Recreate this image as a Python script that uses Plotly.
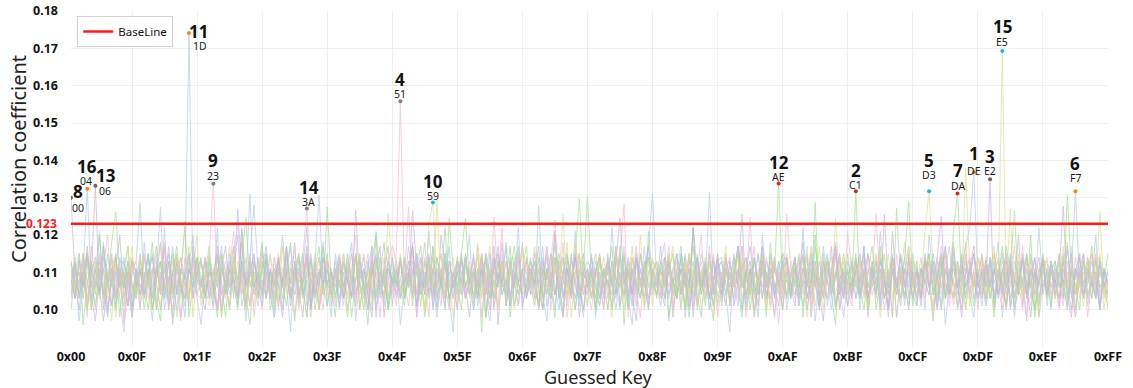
import plotly.graph_objects as go

# ---------------- data ----------------
keys = list(range(256))
x_tick_vals = [0, 15, 31, 47, 63, 79, 95, 111, 127, 143, 159, 175, 191, 207, 223, 239, 255]
x_tick_text = ["0x00", "0x0F", "0x1F", "0x2F", "0x3F", "0x4F", "0x5F", "0x6F", "0x7F",
               "0x8F", "0x9F", "0xAF", "0xBF", "0xCF", "0xDF", "0xEF", "0xFF"]
y_tick_vals = [0.10, 0.11, 0.12, 0.13, 0.14, 0.15, 0.16, 0.17, 0.18]
baseline = 0.123

# correlation per guessed key, in thousandths, one list per key byte (1..16)
s1 = [104,113,97,108,117,101,110,121,106,98,111,115,103,94,107,114,
      110,100,118,107,97,113,104,122,101,110,115,98,106,111,120,103,
      96,108,114,104,122,100,107,113,103,127,110,97,115,106,101,111,
      117,104,98,110,120,107,94,113,103,111,122,101,108,100,114,106,
      98,115,107,103,111,118,97,108,114,104,100,121,110,101,113,107,
      111,96,106,117,108,101,114,104,121,107,98,110,115,103,94,113,
      104,111,120,100,108,115,103,97,113,107,118,101,110,106,122,100,
      108,114,103,128,104,97,111,117,107,100,113,104,121,101,110,106,
      115,98,107,111,103,122,108,100,114,104,96,113,106,117,101,110,
      103,113,118,97,107,110,100,115,106,122,104,98,111,108,114,101,
      110,104,94,114,107,117,101,111,106,98,120,108,103,113,104,115,
      100,108,114,104,122,103,111,97,107,115,101,110,118,106,98,108,
      113,103,107,117,100,110,104,121,108,98,114,106,111,101,115,107,
      104,111,100,120,108,103,113,96,107,115,104,110,117,122,136.8,108,
      101,113,106,110,118,98,108,114,103,111,107,97,115,104,122,106,
      110,100,113,107,103,117,108,98,111,115,104,107,120,101,110,106]
s2 = [108,103,115,96,107,113,104,120,100,110,106,114,98,111,117,101,
      106,111,100,108,118,103,97,113,107,115,104,110,122,98,107,114,
      103,110,117,106,98,111,107,101,114,108,121,104,96,113,106,110,
      115,100,107,113,103,110,118,97,108,106,114,101,111,117,104,127.5,
      107,98,111,104,115,108,101,114,106,96,113,120,103,110,100,108,
      113,106,101,110,117,104,111,98,107,114,103,108,122,101,110,106,
      100,114,108,104,111,94,115,107,103,113,106,118,98,110,104,111,
      117,104,110,100,107,114,103,120,108,98,111,106,115,129.8,107,101,
      110,115,103,108,113,100,106,117,96,111,104,114,107,101,121,108,
      104,111,114,98,107,103,115,110,106,122,100,108,113,104,97,114,
      108,101,113,106,117,110,100,107,114,104,111,98,118,103,108,113,
      103,110,106,115,98,111,107,120,101,108,114,104,96,113,107,115,
      106,131.7,104,110,100,113,107,117,103,111,98,127.1,108,104,114,101,
      111,104,115,107,97,110,114,103,108,118,100,106,113,107,101,110,
      114,103,108,98,111,106,117,110,101,113,107,104,120,100,108,111,
      104,113,107,115,103,130.6,110,100,111,106,114,108,103,113,107,104]
s3 = [113,106,100,110,115,104,97,108,117,107,101,111,120,103,110,98,
      107,115,104,111,100,108,118,103,113,96,106,114,108,101,117,110,
      104,100,111,107,117,98,110,106,114,103,122,108,101,113,107,115,
      110,103,114,106,98,111,107,118,101,108,115,104,111,100,106,113,
      101,111,106,115,108,103,126.6,107,100,113,104,110,117,98,108,114,
      106,114,103,108,118,98,110,104,113,107,101,120,111,103,108,100,
      115,107,98,111,104,114,108,103,117,96,110,106,113,101,107,118,
      103,108,115,106,100,111,107,121,104,98,114,108,103,110,115,106,
      111,100,110,104,114,107,117,101,108,113,104,97,115,107,103,111,
      107,117,103,113,98,108,106,114,101,122,110,104,111,100,108,115,
      104,110,114,101,107,125.5,103,111,98,108,117,106,113,104,110,100,
      114,106,101,110,118,103,108,113,104,97,111,107,115,100,106,110,
      103,111,107,117,98,110,104,114,108,101,121,106,111,103,113,107,
      110,101,113,106,115,108,100,111,104,117,107,98,110,114,103,108,
      115,107,134.9,100,110,104,113,103,108,120,101,111,106,114,98,107,
      106,113,103,110,127.7,104,98,111,107,115,103,108,114,100,110,104]
s4 = [107,114,103,110,98,117,108,104,111,120,101,107,113,96,110,106,
      103,110,115,106,111,100,108,118,104,113,107,97,114,108,103,111,
      113,104,108,100,115,107,103,111,121,101,110,106,114,98,108,117,
      106,111,101,113,108,117,104,98,110,107,115,103,111,106,100,113,
      110,101,114,107,104,111,120,100,108,115,103,110,98,113,107,104,
      115,155.8,107,101,111,104,114,108,98,117,106,110,103,113,107,100,
      108,103,113,106,117,98,110,104,114,107,122,101,111,106,115,103,
      104,113,107,100,110,115,103,111,106,118,98,108,114,104,110,107,
      100,110,115,104,111,107,103,114,128.2,98,108,117,106,113,101,110,
      113,104,108,117,100,111,107,101,114,106,110,120,103,108,115,98,
      107,115,103,110,106,113,98,108,117,104,111,101,114,107,96,111,
      103,108,114,101,111,106,117,110,100,113,107,104,115,108,103,121,
      110,106,113,103,115,108,125.8,104,111,100,114,107,101,110,117,106,
      106,114,104,111,98,108,117,107,101,113,106,110,118,103,111,100,
      113,103,110,115,106,100,111,107,117,104,108,98,114,110,101,113,
      104,111,107,100,113,118,103,110,106,114,98,108,115,104,111,107]
s5 = [110,103,113,107,117,100,108,114,104,111,97,115,106,110,101,113,
      106,114,104,110,100,111,118,103,108,115,98,107,123.6,104,110,120,
      101,108,115,106,111,98,107,117,104,113,108,100,114,107,103,111,
      113,104,110,100,117,108,103,111,115,106,98,110,107,114,104,108,
      103,111,107,115,98,110,114,104,108,101,113,118,106,111,100,107,
      108,115,104,111,103,113,107,100,110,106,129.3,103,114,108,98,111,
      114,106,110,101,118,107,98,111,104,115,108,103,113,106,110,117,
      104,110,117,107,100,111,106,114,103,108,118,98,110,115,104,107,
      111,101,108,114,106,98,115,107,103,113,110,104,120,100,108,114,
      103,113,106,110,117,104,108,100,114,107,101,111,106,115,98,110,
      108,117,101,111,107,114,104,110,98,106,115,108,103,113,107,104,
      115,106,111,103,108,98,113,107,117,104,110,114,101,108,106,111,
      104,110,114,107,100,111,103,115,108,106,113,98,110,118,107,103,
      111,107,121,131.7,110,104,114,108,103,113,106,111,117,101,108,114,
      107,101,111,117,104,110,100,113,107,115,103,108,106,111,98,110,
      114,106,110,103,113,107,117,100,108,104,111,115,106,126.3,103,108]
s6 = [100,110,106,115,107,103,113,108,118,98,111,104,114,107,101,110,
      113,128.6,104,108,115,100,110,106,117,103,111,107,98,114,108,104,
      108,103,113,107,100,115,110,104,111,120,101,107,114,128,110,104,
      115,106,98,111,107,117,103,110,114,104,108,100,113,107,118,101,
      107,113,103,110,100,108,115,106,111,104,117,98,110,107,103,114,
      103,108,114,106,113,101,110,118,104,111,100,107,115,108,103,113,
      110,104,107,115,103,111,98,108,114,106,110,117,101,107,113,104,
      114,107,101,111,106,117,108,100,113,104,110,103,115,107,98,111,
      106,113,108,103,115,107,100,110,104,114,108,101,111,106,117,131.1,
      108,103,111,114,104,110,117,98,107,113,101,108,106,115,104,110,
      101,111,106,108,117,100,110,104,114,107,103,113,108,98,111,115,
      113,104,110,101,107,114,103,111,106,117,108,100,110,104,113,107,
      107,115,100,111,104,108,113,103,110,106,115,98,108,114,103,111,
      103,108,114,106,111,101,110,117,104,113,107,100,111,108,115,106,
      110,101,107,113,103,111,106,115,98,108,114,104,110,107,101,113,
      106,111,104,108,115,103,110,131.7,107,113,101,108,104,114,107,103]
s7 = [111,104,108,115,100,110,106,113,103,107,118,126.2,108,101,111,106,
      103,113,107,100,110,117,104,111,108,98,114,106,110,103,115,107,
      113,106,110,103,114,107,98,111,117,104,108,101,113,106,110,118,
      104,110,100,113,107,115,103,108,111,106,98,114,104,110,107,101,
      110,103,114,106,111,98,108,115,104,107,113,103,110,118,100,108,
      107,113,104,110,101,111,117,106,108,103,114,107,100,124.5,110,104,
      114,106,111,103,108,115,98,110,106,113,104,108,117,101,107,111,
      104,110,107,114,103,111,106,98,115,108,104,113,107,103,110,130.4,
      108,100,113,106,110,117,104,107,111,101,114,108,103,113,106,110,
      113,107,103,110,115,104,111,100,108,117,106,110,101,113,107,104,
      103,111,108,114,106,98,110,104,113,107,115,103,111,106,108,100,
      110,104,114,107,101,111,106,117,108,103,113,110,100,107,115,106,
      107,114,103,110,106,113,100,108,115,104,111,107,103,114,129,106,
      113,103,108,115,104,110,101,111,107,121,131.1,108,103,113,106,110,
      104,110,113,101,108,117,106,111,103,107,114,104,110,98,108,115,
      108,101,111,106,114,104,110,107,100,113,108,117,104,110,106,101]
s8 = [130.0,108,104,113,101,110,114,106,97,107,115,103,111,106,113,100,
      110,104,114,107,103,111,106,117,100,108,113,104,110,115,103,107,
      106,113,103,110,115,104,108,100,111,107,118,101,110,106,114,104,
      114,107,111,101,108,117,104,110,106,98,113,108,103,111,107,115,
      104,110,100,113,107,103,115,108,111,104,98,114,106,110,117,101,
      110,103,113,107,126.5,111,104,108,115,100,110,106,113,103,107,114,
      107,115,104,110,103,113,107,100,111,117,106,108,101,113,104,110,
      113,104,108,117,100,110,106,114,103,107,111,104,115,98,108,111,
      103,111,107,100,113,106,115,108,104,110,101,114,107,111,117,104,
      110,106,114,104,108,103,111,107,115,98,110,106,113,103,108,114,
      106,113,101,110,117,107,104,111,100,108,114,103,110,107,101,113,
      114,103,108,106,111,115,98,110,104,113,107,117,101,108,111,104,
      107,110,104,114,103,108,113,101,125.5,106,111,104,115,107,100,110,
      101,111,107,113,106,100,110,115,104,108,113,103,107,111,117,106,
      111,106,114,103,110,107,101,113,108,104,115,107,98,110,106,114,
      104,113,108,101,111,106,115,104,110,103,107,113,108,100,111,107]
s9 = [106,113,103,110,115,107,100,111,104,108,114,103,110,98,107,113,
      110,101,108,114,104,111,107,117,100,106,113,108,103,110,115,104,
      103,108,115,133.7,107,100,111,106,114,124,104,110,101,113,108,106,
      108,115,104,111,100,110,107,117,103,113,106,98,110,114,104,107,
      104,111,107,101,114,108,103,110,115,106,111,100,108,104,113,117,
      113,103,110,106,115,98,108,114,104,111,107,101,113,106,110,103,
      107,114,104,110,103,113,108,100,124.8,107,115,104,111,108,101,110,
      103,110,113,104,108,117,100,111,106,114,107,103,110,115,104,108,
      114,106,101,111,107,104,113,108,117,103,110,106,98,111,114,107,
      104,110,107,115,100,108,113,106,111,103,115,107,104,110,101,114,
      108,101,113,106,110,117,107,124.8,103,111,106,114,108,98,110,104,
      111,107,103,113,106,110,115,101,108,104,113,107,117,100,110,106,
      101,113,108,104,111,106,114,107,103,110,98,115,107,111,104,108,
      110,104,114,107,101,113,106,110,117,104,108,100,111,107,115,103,
      106,111,103,110,114,107,100,113,104,108,117,106,101,111,107,113,
      113,103,108,115,106,110,104,98,111,107,114,103,110,106,108,100]
s10 = [107,114,104,110,101,113,108,103,115,106,111,98,110,107,117,104,
       111,103,108,115,106,100,113,107,104,110,114,103,108,117,98,110,
       104,110,113,103,108,115,106,100,111,107,104,114,108,101,110,113,
       113,106,101,110,117,104,108,111,100,107,113,106,115,103,110,104,
       103,108,114,106,98,111,107,115,104,110,101,113,108,104,114,107,
       110,104,107,113,103,115,108,100,123,128.7,106,111,104,110,114,103,
       106,113,103,108,114,104,110,117,101,107,111,106,113,100,108,115,
       114,107,111,101,110,106,115,104,108,113,103,107,118,110,100,106,
       104,110,115,107,100,111,106,113,103,108,117,104,110,107,114,101,
       110,103,107,114,106,113,101,108,115,104,111,100,107,113,104,110,
       101,111,106,110,115,103,108,113,104,107,114,110,100,111,106,115,
       108,104,113,103,107,117,100,110,106,114,108,103,124.5,107,111,104,
       114,107,103,111,106,110,115,98,108,104,113,107,101,110,117,106,
       104,110,113,107,100,111,106,115,108,103,113,104,138,110,107,114,
       111,103,108,115,106,113,107,127,100,110,104,114,107,103,111,108,
       106,113,104,110,117,101,108,111,106,114,103,110,107,113,100,108]
s11 = [103,110,115,106,113,100,108,104,117,107,111,101,110,114,106,98,
       111,106,108,115,103,110,113,100,107,117,104,111,108,174.1,106,113,
       107,114,103,110,106,113,104,115,108,101,111,107,130.9,104,110,103,
       114,104,111,107,100,110,117,106,113,103,108,115,104,110,107,111,
       106,110,101,113,108,104,114,107,103,111,117,100,110,106,113,108,
       111,103,114,106,110,115,104,108,113,101,107,111,106,117,103,110,
       104,113,107,100,111,106,115,110,103,108,113,104,114,107,101,111,
       110,106,113,107,117,101,108,104,111,114,106,110,100,113,107,104,
       114,108,103,111,106,113,104,115,107,100,110,113,104,108,117,106,
       107,101,110,113,104,108,114,106,111,103,107,115,110,100,108,113,
       103,111,106,115,107,100,110,113,104,108,117,106,111,103,113,107,
       110,104,113,103,111,107,115,108,100,106,113,104,110,114,107,101,
       113,107,103,110,115,106,111,100,108,104,114,107,103,111,106,115,
       106,111,108,104,113,101,110,117,107,103,111,108,114,104,98,110,
       108,103,114,107,111,104,110,101,113,108,106,115,103,110,107,113,
       101,110,106,113,107,117,104,111,108,103,113,106,110,100,111,107]
s12 = [113,106,110,103,114,107,101,111,104,115,108,100,110,106,113,107,
       104,111,107,115,100,108,113,106,103,110,117,107,101,111,108,114,
       108,103,113,106,110,115,104,111,107,100,114,124.8,106,110,103,113,
       103,110,106,114,107,101,111,108,115,104,110,113,100,107,117,106,
       111,104,108,103,113,107,115,100,110,106,111,104,114,108,101,110,
       107,114,103,110,106,111,101,113,108,117,104,107,113,103,110,106,
       115,124.5,107,111,104,110,114,103,108,106,113,101,110,117,107,104,
       106,113,110,101,111,107,103,114,104,110,115,107,100,108,113,106,
       110,103,114,107,100,113,108,106,115,104,111,107,103,110,114,108,
       104,111,106,113,108,103,115,107,98,110,114,104,111,107,101,113,
       114,107,103,110,115,106,111,100,108,104,113,107,115,110,133.8,106,
       108,103,111,106,114,107,104,128.7,101,110,113,106,108,115,103,111,
       104,113,107,100,110,117,106,111,103,108,114,104,110,107,101,113,
       111,106,110,115,104,108,113,103,107,111,106,115,100,110,107,104,
       107,114,103,110,113,106,101,111,126.5,104,108,115,106,100,110,113,
       103,110,113,106,108,100,111,104,114,107,110,103,113,106,108,115]
s13 = [108,103,113,106,115,110,133.2,104,111,100,108,114,106,110,101,113,
       106,111,103,110,114,107,100,108,115,104,113,107,103,111,106,110,
       114,104,110,107,100,111,117,106,108,103,113,107,110,115,104,108,
       103,111,107,114,106,110,101,113,104,108,117,100,110,106,114,107,
       110,106,113,103,108,115,104,111,107,100,110,114,106,103,111,108,
       104,113,107,110,117,101,108,106,114,104,111,107,103,113,106,110,
       113,103,108,114,106,111,104,115,100,110,107,113,104,108,117,101,
       107,111,106,101,113,108,115,104,110,103,111,107,114,106,100,110,
       103,110,114,106,108,101,113,124.5,107,111,104,115,108,103,110,113,
       111,106,101,113,107,115,104,110,100,108,114,106,111,103,113,107,
       104,114,108,103,111,106,110,117,107,101,113,104,108,114,106,111,
       113,107,104,110,115,100,108,106,113,107,103,111,117,104,110,101,
       106,110,115,107,103,111,104,113,108,100,110,106,114,107,111,103,
       110,103,113,106,108,114,125,104,111,107,101,113,106,110,115,107,
       103,113,107,111,104,110,115,100,108,106,113,103,111,107,114,104,
       111,106,108,103,113,107,100,110,115,104,111,108,103,113,106,110]
s14 = [104,111,107,114,103,110,106,115,100,108,113,104,111,107,101,110,
       113,106,110,103,108,115,104,111,107,100,110,114,106,103,113,108,
       107,114,104,111,101,108,113,106,117,103,110,107,114,104,108,100,
       111,104,108,115,106,113,103,110,107,114,127.1,104,111,101,108,113,
       106,110,114,104,111,107,101,113,108,103,115,106,110,114,104,107,
       101,113,108,127.5,104,110,114,106,111,103,108,115,107,100,110,113,
       110,103,107,113,106,115,104,108,111,101,113,107,103,110,114,106,
       114,108,103,111,107,104,113,124,106,110,101,114,108,104,111,107,
       104,111,107,101,113,108,117,106,110,104,114,103,111,107,100,110,
       108,103,113,106,110,115,104,111,107,100,108,113,106,117,104,111,
       113,107,104,110,103,111,114,106,108,115,104,110,101,113,107,103,
       125.8,111,108,114,104,110,101,113,107,103,111,106,110,115,104,108,
       103,110,113,106,115,104,108,111,100,107,113,104,110,106,114,107,
       111,106,103,110,107,114,104,113,108,101,111,107,115,104,110,103,
       107,113,108,104,111,103,115,106,110,107,100,113,108,104,111,114,
       110,104,111,107,101,113,106,114,103,110,107,115,104,111,106,108]
s15 = [111,104,108,115,107,100,113,106,110,103,114,108,104,111,107,117,
       103,110,114,106,111,107,101,113,108,104,115,106,111,103,110,107,
       113,106,101,110,107,115,104,108,114,106,111,100,110,107,113,104,
       107,114,110,103,111,106,113,104,108,115,103,110,107,100,111,114,
       104,110,106,113,103,108,115,107,100,111,106,114,108,104,125.8,110,
       110,103,114,107,104,111,108,101,113,106,110,115,103,108,107,113,
       106,113,104,110,115,103,108,111,107,100,113,106,110,114,104,108,
       111,107,101,113,106,110,104,114,108,125.5,103,111,107,115,106,110,
       103,108,113,106,111,104,115,107,100,110,114,106,108,103,113,107,
       113,106,110,115,103,108,107,113,104,111,101,110,114,106,108,104,
       107,111,104,108,114,106,113,103,110,107,115,100,108,113,104,111,
       104,113,108,103,110,115,106,111,107,100,113,108,104,110,114,106,
       111,106,114,107,101,110,104,113,108,115,103,107,111,106,110,113,
       103,110,107,113,106,111,115,104,108,103,113,107,100,110,106,114,
       108,104,111,115,107,169.3,103,110,106,113,104,108,114,107,101,111,
       113,107,103,110,114,106,111,104,108,101,113,107,110,115,104,108]
s16 = [107,113,103,110,132.4,106,111,104,114,108,101,110,106,113,107,103,
       111,104,108,114,106,110,127.4,103,113,107,100,111,108,115,104,110,
       106,113,107,101,110,117,104,111,108,103,113,106,110,114,107,101,
       113,107,103,111,106,114,108,104,110,115,101,107,113,130.7,106,111,
       104,110,115,106,111,103,108,113,107,100,110,115,104,108,111,106,
       110,103,107,113,104,115,106,110,103,111,114,107,101,110,106,113,
       107,114,104,110,101,108,113,106,111,115,104,108,103,113,107,110,
       103,108,113,106,114,104,110,107,100,111,107,115,106,103,110,113,
       111,106,101,110,113,107,104,114,108,103,111,106,115,107,100,110,
       106,113,108,103,111,115,104,110,107,101,113,106,108,131.4,104,111,
       113,104,110,107,101,111,114,106,108,115,103,110,107,104,113,106,
       104,110,114,103,108,106,113,107,101,111,115,104,110,108,103,113,
       108,103,111,115,106,110,104,113,107,100,111,108,114,106,110,104,
       101,111,107,104,113,108,115,103,110,107,106,114,104,111,108,103,
       110,106,113,103,108,115,104,111,100,107,113,106,110,114,103,108,
       107,113,104,110,106,101,111,108,114,104,110,107,103,113,106,111]

series = [s1, s2, s3, s4, s5, s6, s7, s8, s9, s10, s11, s12, s13, s14, s15, s16]
byte_labels = [str(i) for i in range(1, 17)]
peak_keys = [0xDE, 0xC1, 0xE2, 0x51, 0xD3, 0xF7, 0xDA, 0x00,
             0x23, 0x59, 0x1D, 0xAE, 0x06, 0x3A, 0xE5, 0x04]

# ---------------- styling ----------------
line_colors = ["#aec7e8", "#98df8a", "#c5b0d5", "#f7b6d2", "#dbdb8d"]
marker_colors = ["#ff7f0e", "#d62728", "#8c564b", "#7f7f7f", "#17becf"]
# label offsets in px: (dx number, up number, dx key, up key)
label_offsets = [(0, 19, 0, 1), (0, 21, 0, 6), (0, 23, 0, 8), (0, 22, 0, 7),
                 (0, 31, 0, 16), (0, 28, 0, 13), (0, 23, 0, 8), (7, 6, 7, -10),
                 (0, 23, 0, 8), (0, 21, 0, 7), (10, 2, 11, -13), (0, 21, 0, 6),
                 (11, 10, 10, -5), (2, 21, 2, 6), (0, 24, 0, 9), (0, 22, -1, 8)]

FONT = "Noto Sans"
fig = go.Figure()

for i, s in enumerate(series):
    yv = [v / 1000 for v in s]
    fig.add_trace(go.Scatter(
        x=keys, y=yv, mode="lines",
        line=dict(color=line_colors[i % 5], width=0.9),
        opacity=0.75, showlegend=False, hoverinfo="skip"))

for i, s in enumerate(series):
    k = peak_keys[i]
    fig.add_trace(go.Scatter(
        x=[k], y=[s[k] / 1000], mode="markers",
        marker=dict(color=marker_colors[i % 5], size=4),
        showlegend=False, hoverinfo="skip"))

fig.add_trace(go.Scatter(
    x=[keys[0], keys[-1]], y=[baseline, baseline], mode="lines",
    line=dict(color="#ff1a1a", width=2.5), name="BaseLine"))

annotations = []
for i, s in enumerate(series):
    k = peak_keys[i]
    v = s[k] / 1000
    dxn, upn, dxk, upk = label_offsets[i]
    annotations.append(dict(x=k, y=v, xref="x", yref="y", text="<b>%s</b>" % byte_labels[i],
                            showarrow=False, xshift=dxn, yshift=upn,
                            font=dict(family=FONT, size=17, color="#111")))
    annotations.append(dict(x=k, y=v, xref="x", yref="y", text="%02X" % k,
                            showarrow=False, xshift=dxk, yshift=upk,
                            font=dict(family=FONT, size=10.5, color="#1a1a1a")))

annotations.append(dict(x=0, y=baseline, xref="paper", yref="y", text="<b>0.123</b>",
                        showarrow=False, xanchor="right", xshift=-12,
                        font=dict(family=FONT, size=12, color="#ff1a1a")))
# axis titles
annotations.append(dict(x=0, y=0.5, xref="paper", yref="paper", text="Correlation coefficient",
                        showarrow=False, textangle=-90, xanchor="center", yanchor="middle",
                        xshift=-53, yshift=20,
                        font=dict(family=FONT, size=20, color="#222")))
annotations.append(dict(x=0.5, y=0, xref="paper", yref="paper", text="Guessed Key",
                        showarrow=False, xanchor="center", yanchor="middle",
                        xshift=8, yshift=-30,
                        font=dict(family=FONT, size=18, color="#222")))

fig.update_layout(
    width=1133, height=388,
    margin=dict(l=71, r=25, t=11, b=41),
    paper_bgcolor="white", plot_bgcolor="white",
    font=dict(family=FONT, color="#111"),
    annotations=annotations,
    legend=dict(x=0.006, y=0.985, xanchor="left", yanchor="top",
                bgcolor="white", bordercolor="#d0d0d0", borderwidth=1,
                font=dict(family=FONT, size=11.5, color="#111"),
                itemwidth=30, tracegroupgap=0),
    showlegend=True,
)
fig.update_xaxes(
    range=[0, 255], tickvals=x_tick_vals, ticktext=["<b>%s</b>" % t for t in x_tick_text],
    tickfont=dict(family=FONT, size=12.5, color="#111"),
    showgrid=True, gridcolor="#efefef", gridwidth=1, zeroline=False,
    showline=False, ticks="", automargin=False,
)
fig.update_yaxes(
    range=[0.09, 0.18], tickvals=y_tick_vals,
    ticktext=["<b>%.2f</b>" % v for v in y_tick_vals],
    tickfont=dict(family=FONT, size=12.5, color="#111"),
    showgrid=True, gridcolor="#efefef", gridwidth=1, zeroline=False,
    showline=False, ticks="", ticklabelstandoff=12, automargin=False,
)

fig.write_html("out.html", config={"displayModeBar": False},
               post_script="document.body.style.margin='0';")
